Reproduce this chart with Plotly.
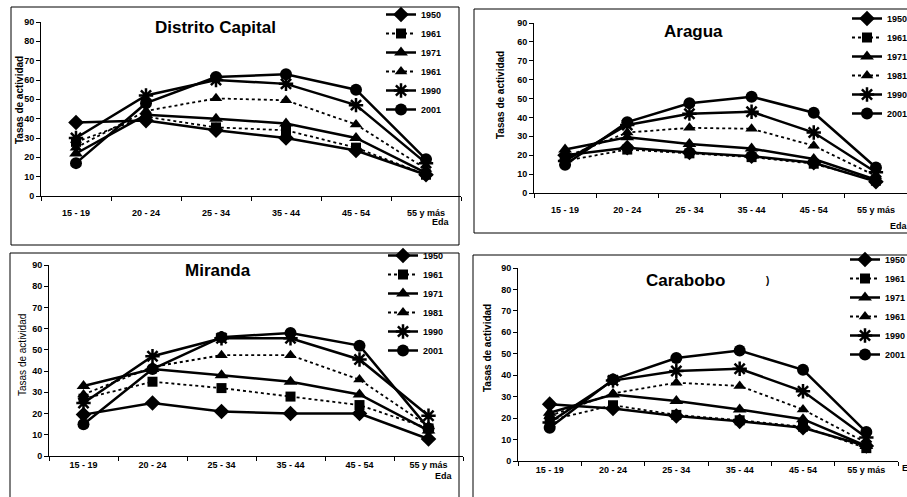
import plotly.graph_objects as go

W, H = 907, 497

age_groups = ["15 - 19", "20 - 24", "25 - 34", "35 - 44", "45 - 54", "55 y más"]
y_tickvals = [0, 10, 20, 30, 40, 50, 60, 70, 80, 90]
y_ticktext = ["0", "10", "20", "30", "40", "50", "60", "70", "80", "90"]
y_ticktext_aragua = ["0", "10", "20", "30", "40", "50", "60", "70", "60", "90"]

# Tasas de actividad por grupo de edad y año censal
dc_1950 = [38, 39, 34, 30, 23.5, 11]
dc_1961 = [28, 41, 35.5, 34, 25, 11]
dc_1971 = [22, 42, 40, 37.5, 30, 12]
dc_1981 = [25, 44, 50.5, 49.5, 37, 14]
dc_1990 = [30, 52, 60, 58, 47, 17]
dc_2001 = [17, 48, 61.5, 63, 55, 19]

ar_1950 = [20, 24, 21.5, 19.5, 16, 6]
ar_1961 = [17, 23, 21, 19, 15.5, 6.5]
ar_1971 = [23, 29.5, 26, 23.5, 18, 7]
ar_1981 = [19, 32, 34.5, 34, 25, 9]
ar_1990 = [17, 36, 42, 43, 32, 11]
ar_2001 = [15, 37.5, 47.5, 51, 42.5, 13.5]

mi_1950 = [19.5, 25, 21, 20, 20, 8]
mi_1961 = [27, 35, 32, 28, 24, 13]
mi_1971 = [33, 41, 38, 35, 29, 12]
mi_1981 = [29, 42, 47.5, 47.5, 36, 14]
mi_1990 = [25, 47, 55.5, 55.5, 45.5, 19]
mi_2001 = [15, 41, 56, 58, 52, 13]

ca_1950 = [26.5, 24.5, 21, 18.5, 15.5, 7]
ca_1961 = [19, 26, 21.5, 19, 16, 6]
ca_1971 = [22.5, 31, 28, 24, 19.5, 7]
ca_1981 = [21, 31.5, 36.5, 35, 24, 8.5]
ca_1990 = [18, 37.5, 42, 43, 32.5, 11]
ca_2001 = [15.5, 38, 48, 51.5, 42.5, 13.5]

legend_dc = ["1950", "1961", "1971", "1961", "1990", "2001"]
legend_ar = ["1950", "1961", "1971", "1981", "1990", "2001"]
legend_mi = ["1950", "1961", "1971", "1981", "1990", "2001"]
legend_ca = ["1950", "1961", "1971", "1961", "1990", "2001"]

FONT = "Liberation Sans, Arial, sans-serif"
symbols = ["diamond", "square", "triangle-up", "triangle-up", "asterisk-open", "circle"]
dashes = ["solid", "dot", "solid", "dot", "solid", "solid"]
widths = [2.5, 1.8, 2.5, 1.8, 2.5, 2.5]
sizes = [12, 10, 12, 11, 12, 12]


def px_x(p):
    return p / W


def px_y(p):
    return 1 - p / H


# panel geometry in pixels: x-axis start/end, y of value 0 and value 90
panels = [
    dict(title="Distrito Capital", series=[dc_1950, dc_1961, dc_1971, dc_1981, dc_1990, dc_2001],
         names=legend_dc, x0=41, x1=461, y0=196, y90=22, ticktext=y_ticktext, standoff=8,
         title_xy=(215, 27), ytitle_xy=(19, 100), eda_xy=(430, 222), eda="Eda",
         legend_xy=(381, 0), box=(11, 7, 459, 245), ytitle_bold=True),
    dict(title="Aragua", series=[ar_1950, ar_1961, ar_1971, ar_1981, ar_1990, ar_2001],
         names=legend_ar, x0=534, x1=907, y0=193, y90=23, ticktext=y_ticktext_aragua, standoff=8,
         title_xy=(693, 32), ytitle_xy=(500, 95), eda_xy=(888, 226), eda="Eda",
         legend_xy=(847, 4), box=(474, 9, 920, 233), ytitle_bold=True),
    dict(title="Miranda", series=[mi_1950, mi_1961, mi_1971, mi_1981, mi_1990, mi_2001],
         names=legend_mi, x0=49, x1=463, y0=456, y90=265, ticktext=y_ticktext, standoff=0,
         title_xy=(218, 270), ytitle_xy=(22, 355), eda_xy=(433, 476), eda="Eda",
         legend_xy=(383, 241), box=(10, 253, 459, 510), ytitle_bold=False),
    dict(title="Carabobo", series=[ca_1950, ca_1961, ca_1971, ca_1981, ca_1990, ca_2001],
         names=legend_ca, x0=518, x1=898, y0=461, y90=268, ticktext=y_ticktext, standoff=0,
         title_xy=(685, 280), ytitle_xy=(487, 348), eda_xy=(900, 468), eda="Edad",
         legend_xy=(845, 245), box=(473, 255, 920, 510), ytitle_bold=True),
]

fig = go.Figure()
layout = dict(
    width=W, height=H,
    margin=dict(l=0, r=0, t=0, b=0, autoexpand=False),
    paper_bgcolor="white", plot_bgcolor="white",
    font=dict(family=FONT, color="black", size=9),
    showlegend=True,
)
annotations = []
shapes = []

for i, p in enumerate(panels, start=1):
    xa = "x" if i == 1 else f"x{i}"
    ya = "y" if i == 1 else f"y{i}"
    lg = "legend" if i == 1 else f"legend{i}"
    for k, vals in enumerate(p["series"]):
        fig.add_trace(go.Scatter(
            x=age_groups, y=vals, name=p["names"][k], mode="lines+markers",
            xaxis=xa, yaxis=ya, legend=lg,
            line=dict(color="black", width=widths[k], dash=dashes[k]),
            marker=dict(symbol=symbols[k], size=sizes[k], color="black",
                        line=dict(color="black", width=2.5 if symbols[k].startswith("asterisk") else 0)),
        ))
    xkey = "xaxis" if i == 1 else f"xaxis{i}"
    ykey = "yaxis" if i == 1 else f"yaxis{i}"
    layout[xkey] = dict(
        domain=[px_x(p["x0"]), min(1.0, px_x(p["x1"]))], anchor=ya, type="category",
        range=[-0.5, 5.5], showline=True, linecolor="black", linewidth=1,
        ticks="outside", ticklen=4, tickcolor="black", tickson="boundaries",
        showgrid=False, zeroline=False, ticklabelstandoff=p["standoff"],
        tickfont=dict(family=FONT, size=9, weight="bold"),
    )
    layout[ykey] = dict(
        domain=[px_y(p["y0"]), px_y(p["y90"])], anchor=xa, range=[0, 90],
        tickvals=y_tickvals, ticktext=p["ticktext"],
        showline=True, linecolor="black", linewidth=1,
        ticks="outside", ticklen=4, tickcolor="black",
        showgrid=False, zeroline=False,
        tickfont=dict(family=FONT, size=9, weight="bold"),
    )
    layout[lg] = dict(
        x=px_x(p["legend_xy"][0]), y=px_y(p["legend_xy"][1]),
        xanchor="left", yanchor="top", bgcolor="rgba(0,0,0,0)",
        borderwidth=0, tracegroupgap=0, itemwidth=30,
        font=dict(family=FONT, size=9, weight="bold"),
    )
    annotations.append(dict(
        text=p["title"], x=px_x(p["title_xy"][0]), y=px_y(p["title_xy"][1]),
        xref="paper", yref="paper", showarrow=False, xanchor="center", yanchor="middle",
        font=dict(family=FONT, size=17, weight="bold"),
    ))
    annotations.append(dict(
        text="Tasas de actividad", x=px_x(p["ytitle_xy"][0]), y=px_y(p["ytitle_xy"][1]),
        xref="paper", yref="paper", showarrow=False, textangle=-90,
        xanchor="center", yanchor="middle",
        font=dict(family=FONT, size=10, weight="bold" if p["ytitle_bold"] else "normal"),
    ))
    annotations.append(dict(
        text=p["eda"], x=px_x(p["eda_xy"][0]), y=px_y(p["eda_xy"][1]),
        xref="paper", yref="paper", showarrow=False, xanchor="left", yanchor="middle",
        font=dict(family=FONT, size=9, weight="bold"),
    ))
    bx0, by0, bx1, by1 = p["box"]
    shapes.append(dict(
        type="rect", xref="paper", yref="paper",
        x0=px_x(bx0), x1=px_x(bx1), y0=px_y(by1), y1=px_y(by0),
        line=dict(color="black", width=1), fillcolor="rgba(0,0,0,0)", layer="below",
    ))

annotations.append(dict(
    text=")", x=px_x(767), y=px_y(280), xref="paper", yref="paper", showarrow=False,
    xanchor="center", yanchor="middle", font=dict(family=FONT, size=10, weight="bold"),
))

layout["annotations"] = annotations
layout["shapes"] = shapes
fig.update_layout(**layout)
fig.write_html("out.html")
